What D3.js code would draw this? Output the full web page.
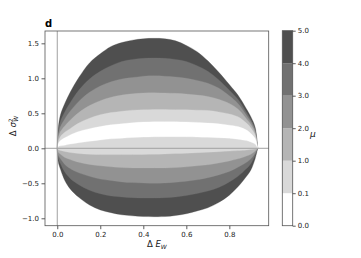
<!DOCTYPE html>
<html>
<head>
<meta charset="utf-8">
<script src="https://cdn.jsdelivr.net/npm/d3@7"></script>
<style>
  body { margin: 0; background: #fff; }
  svg { display: block; font-family: "DejaVu Sans", sans-serif; }
</style>
</head>
<body>
<svg id="chart" width="361" height="258"></svg>
<script>
// sample positions along Delta E_W
var xs       = [0, 0.005, 0.015, 0.035, 0.06, 0.1, 0.15, 0.2, 0.25, 0.3, 0.35, 0.4, 0.45, 0.5, 0.55, 0.6, 0.65, 0.7, 0.75, 0.8, 0.84, 0.88, 0.9, 0.92, 0.932];
// contour boundaries (upper half)
var outerUp  = [0, 0.3, 0.48, 0.64, 0.8, 1.01, 1.22, 1.35, 1.455, 1.51, 1.545, 1.565, 1.571, 1.565, 1.535, 1.47, 1.38, 1.25, 1.09, 0.91, 0.76, 0.56, 0.45, 0.3, 0];
var mu4Up    = [0, 0.24, 0.39, 0.52, 0.65, 0.83, 0.99, 1.1, 1.18, 1.24, 1.27, 1.285, 1.29, 1.285, 1.27, 1.24, 1.18, 1.1, 0.98, 0.83, 0.7, 0.51, 0.41, 0.27, 0];
var mu3Up    = [0, 0.19, 0.31, 0.42, 0.53, 0.67, 0.8, 0.89, 0.95, 0.99, 1.01, 1.03, 1.035, 1.03, 1.02, 1.0, 0.97, 0.93, 0.86, 0.75, 0.64, 0.47, 0.38, 0.25, 0];
var mu2Up    = [0, 0.15, 0.24, 0.32, 0.4, 0.51, 0.61, 0.68, 0.73, 0.76, 0.78, 0.79, 0.795, 0.79, 0.785, 0.775, 0.76, 0.74, 0.7, 0.64, 0.56, 0.42, 0.34, 0.22, 0];
var mu1Up    = [0, 0.1, 0.17, 0.23, 0.28, 0.36, 0.43, 0.48, 0.51, 0.53, 0.545, 0.55, 0.555, 0.555, 0.55, 0.55, 0.545, 0.54, 0.52, 0.49, 0.45, 0.36, 0.29, 0.19, 0];
var mu01Up   = [0, 0.07, 0.11, 0.15, 0.19, 0.24, 0.28, 0.31, 0.335, 0.35, 0.365, 0.375, 0.38, 0.38, 0.38, 0.375, 0.37, 0.36, 0.35, 0.33, 0.31, 0.26, 0.21, 0.14, 0];
var mu01Low  = [0, 0.025, 0.035, 0.045, 0.06, 0.08, 0.1, 0.12, 0.135, 0.145, 0.155, 0.16, 0.165, 0.166, 0.166, 0.165, 0.162, 0.158, 0.152, 0.145, 0.13, 0.11, 0.09, 0.06, 0];
// lower half
var mu1Low   = [0, -0.02, -0.03, -0.045, -0.06, -0.075, -0.085, -0.09, -0.09, -0.09, -0.09, -0.088, -0.085, -0.08, -0.075, -0.07, -0.063, -0.055, -0.048, -0.04, -0.033, -0.024, -0.018, -0.009, 0];
var mu2Low   = [0, -0.055, -0.085, -0.13, -0.16, -0.2, -0.23, -0.25, -0.265, -0.275, -0.28, -0.28, -0.28, -0.28, -0.275, -0.265, -0.25, -0.235, -0.21, -0.18, -0.15, -0.11, -0.085, -0.04, 0];
var mu3Low   = [0, -0.1, -0.15, -0.23, -0.29, -0.35, -0.4, -0.44, -0.46, -0.48, -0.49, -0.495, -0.5, -0.495, -0.485, -0.47, -0.45, -0.42, -0.38, -0.33, -0.27, -0.2, -0.15, -0.07, 0];
var mu4Low   = [0, -0.15, -0.22, -0.34, -0.43, -0.52, -0.6, -0.65, -0.68, -0.695, -0.705, -0.71, -0.71, -0.705, -0.695, -0.675, -0.645, -0.61, -0.56, -0.48, -0.4, -0.29, -0.22, -0.1, 0];
var outerLow = [0, -0.2, -0.3, -0.46, -0.58, -0.7, -0.81, -0.88, -0.92, -0.95, -0.965, -0.975, -0.977, -0.975, -0.96, -0.935, -0.895, -0.85, -0.775, -0.67, -0.55, -0.4, -0.31, -0.15, 0];

var levels = ["0.0", "0.1", "1.0", "2.0", "3.0", "4.0", "5.0"];
var greys  = ["#ffffff", "#d9d9d9", "#b5b5b5", "#929292", "#717171", "#4f4f4f"];
var xTicks = [0, 0.2, 0.4, 0.6, 0.8];
var yTicks = [-1.0, -0.5, 0, 0.5, 1.0, 1.5];

var svg = d3.select("#chart");
var pLeft = 45, pRight = 268.7, pTop = 31, pBottom = 225.7;

var x = d3.scaleLinear().domain([-0.057, 0.983]).range([pLeft, pRight]);
var y = d3.scaleLinear().domain([-1.106, 1.676]).range([pBottom, pTop]);

// nested bands, outer first, so no seams between them
var bands = [
    [outerLow, outerUp, greys[5]],
    [mu4Low, mu4Up, greys[4]],
    [mu3Low, mu3Up, greys[3]],
    [mu2Low, mu2Up, greys[2]],
    [mu1Low, mu1Up, greys[1]],
    [mu01Low, mu01Up, greys[0]]
];

var area = d3.area()
    .x(function(d) { return x(d.x); })
    .y0(function(d) { return y(d.lo); })
    .y1(function(d) { return y(d.hi); })
    .curve(d3.curveCatmullRom.alpha(0.5));

bands.forEach(function(b) {
    var pts = xs.map(function(v, i) { return {x: v, lo: b[0][i], hi: b[1][i]}; });
    svg.append("path")
        .attr("d", area(pts))
        .attr("fill", b[2])
        .attr("stroke", b[2])
        .attr("stroke-width", 0.3);
});

// zero lines
svg.append("line")
    .attr("x1", pLeft).attr("x2", pRight)
    .attr("y1", y(0)).attr("y2", y(0))
    .attr("stroke", "#a0a0a0").attr("stroke-width", 1);
svg.append("line")
    .attr("x1", x(0)).attr("x2", x(0))
    .attr("y1", pTop).attr("y2", pBottom)
    .attr("stroke", "#a0a0a0").attr("stroke-width", 1);

// axes
var fmt = d3.format(".1f");
var xAxis = svg.append("g")
    .attr("transform", "translate(0," + pBottom + ")")
    .call(d3.axisBottom(x).tickValues(xTicks).tickFormat(fmt).tickSize(3.5).tickPadding(2.5));
var yAxis = svg.append("g")
    .attr("transform", "translate(" + pLeft + ",0)")
    .call(d3.axisLeft(y).tickValues(yTicks).tickFormat(fmt).tickSize(3.5).tickPadding(2.5));
[xAxis, yAxis].forEach(function(g) {
    g.select(".domain").remove();
    g.selectAll("line").attr("stroke", "#333").attr("stroke-width", 0.8);
    g.selectAll("text").attr("fill", "#222").style("font-size", "7px").style("font-family", "DejaVu Sans");
});

// frame
svg.append("rect")
    .attr("x", pLeft).attr("y", pTop)
    .attr("width", pRight - pLeft).attr("height", pBottom - pTop)
    .attr("fill", "none").attr("stroke", "#555").attr("stroke-width", 0.8);

// title
svg.append("text")
    .attr("x", pLeft).attr("y", 27)
    .style("font-size", "10px").style("font-weight", "bold")
    .text("d");

// axis labels
var xl = svg.append("text")
    .attr("x", (pLeft + pRight) / 2).attr("y", 247)
    .attr("text-anchor", "middle")
    .style("font-size", "8.5px").attr("fill", "#222");
xl.append("tspan").text("Δ ");
xl.append("tspan").style("font-style", "italic").text("E");
xl.append("tspan").style("font-style", "italic").style("font-size", "6px").attr("dy", 2).text("W");

var yl = svg.append("text")
    .attr("transform", "translate(16,126) rotate(-90)")
    .attr("text-anchor", "middle")
    .style("font-size", "8.5px").attr("fill", "#222");
yl.append("tspan").text("Δ ");
yl.append("tspan").style("font-style", "italic").text("σ");
yl.append("tspan").style("font-size", "6px").attr("dy", -3.5).text("2");
yl.append("tspan").style("font-style", "italic").style("font-size", "6px").attr("dx", -3.4).attr("dy", 5.5).text("W");

// colorbar
var cbX = 282.3, cbW = 10.4;
var cb = d3.scalePoint().domain(levels).range([pBottom, 30.7]);
for (var i = 0; i < greys.length; i++) {
    svg.append("rect")
        .attr("x", cbX).attr("y", cb(levels[i + 1]))
        .attr("width", cbW).attr("height", cb(levels[i]) - cb(levels[i + 1]))
        .attr("fill", greys[i]);
}
svg.append("rect")
    .attr("x", cbX).attr("y", 30.7)
    .attr("width", cbW).attr("height", pBottom - 30.7)
    .attr("fill", "none").attr("stroke", "#555").attr("stroke-width", 0.8);
var cbAxis = svg.append("g")
    .attr("transform", "translate(" + (cbX + cbW) + ",0)")
    .call(d3.axisRight(cb).tickSize(3).tickPadding(2));
cbAxis.select(".domain").remove();
cbAxis.selectAll("line").attr("stroke", "#333").attr("stroke-width", 0.8);
cbAxis.selectAll("text").attr("fill", "#222").style("font-size", "7px").style("font-family", "DejaVu Sans");

svg.append("text")
    .attr("x", 310).attr("y", 137)
    .style("font-size", "9px").style("font-style", "italic").attr("fill", "#222")
    .text("μ");
</script>
</body>
</html>
